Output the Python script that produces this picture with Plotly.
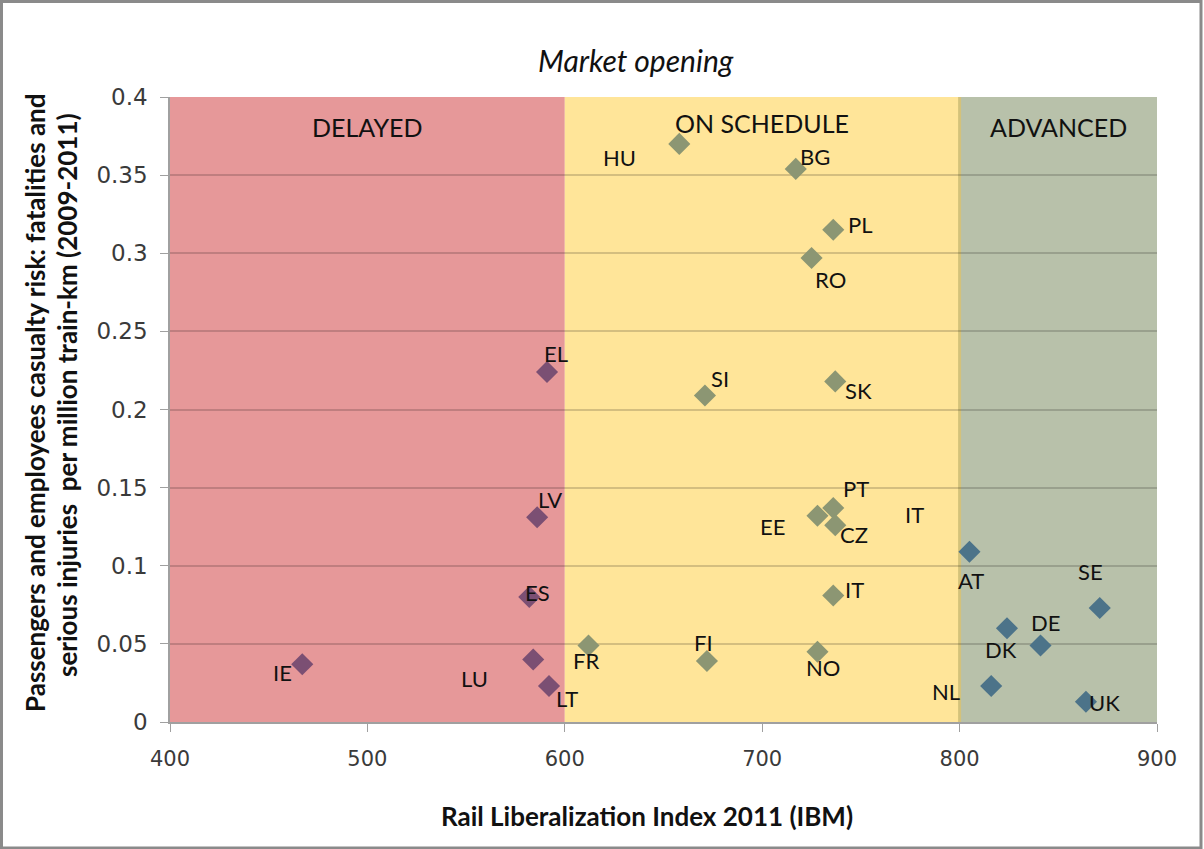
import plotly.graph_objects as go

# ---- data ----
countries = ["HU", "BG", "PL", "RO", "EL", "SI", "SK", "LV", "ES", "PT", "EE", "CZ",
             "AT", "IT", "NO", "DK", "DE", "SE", "NL", "UK", "IE", "LU", "LT", "FR", "FI"]
rli = [658, 717, 736, 725, 591, 671, 737, 586, 582, 736, 728, 737,
       805, 736, 728, 824, 841, 871, 816, 864, 467, 584, 592, 612, 672]
risk = [0.370, 0.354, 0.315, 0.297, 0.224, 0.209, 0.218, 0.131, 0.080, 0.137, 0.132, 0.126,
        0.109, 0.081, 0.045, 0.060, 0.049, 0.073, 0.023, 0.013, 0.037, 0.040, 0.023, 0.049, 0.039]
groups = ["on", "on", "on", "on", "del", "on", "on", "del", "del", "on", "on", "on",
          "adv", "on", "on", "adv", "adv", "adv", "adv", "adv", "del", "del", "del", "on", "on"]
# label offsets in pixels (dx right, dy up)
label_dx = [-60, 19, 27, 19, 9, 15, 23, 13, 8, 23, -45, 19, 2, 21, 6, -6, 5, -9, -45, 19, -20, -59, 18, -2, -3]
label_dy = [-14, 12, 5, -22, 19, 17, -9, 18, 5, 19, -11, -9, -29, 6, -16, -21, 23, 36, -5, -1, -8, -19, -12, -15, 19]

# stray label (no marker) in the source chart
stray_label = "IT"
stray_x, stray_y = 777, 0.1325

bands = [("DELAYED", 400, 600, "rgb(230,152,153)", 500, 0.381),
         ("ON SCHEDULE", 600, 800, "rgb(255,229,153)", 700, 0.3835),
         ("ADVANCED", 800, 900, "rgb(184,193,170)", 850, 0.381)]
group_colors = {"del": "rgb(123,79,115)", "on": "rgb(140,150,115)", "adv": "rgb(76,115,137)"}

x_ticks = [400, 500, 600, 700, 800, 900]
y_ticks = [0, 0.05, 0.1, 0.15, 0.2, 0.25, 0.3, 0.35, 0.4]
y_tick_text = ["0", "0.05", "0.1", "0.15", "0.2", "0.25", "0.3", "0.35", "0.4"]

W, H = 1204, 849
L, R, T, B = 170, 47, 97, 127
PW, PH = W - L - R, H - T - B


def px(xp):
    return (xp - L) / PW


def py(yp):
    return (H - B - yp) / PH


fig = go.Figure()

for g in ["del", "on", "adv"]:
    idx = [i for i, gg in enumerate(groups) if gg == g]
    fig.add_trace(go.Scatter(
        x=[rli[i] for i in idx], y=[risk[i] for i in idx],
        mode="markers",
        marker=dict(symbol="diamond", size=17, color=group_colors[g], line=dict(width=0)),
        showlegend=False, hoverinfo="skip"))

shapes = []
annotations = []
for name, x0, x1, col, lx, ly in bands:
    shapes.append(dict(type="rect", xref="x", yref="y", x0=x0, x1=x1, y0=0, y1=0.4,
                       fillcolor=col, line=dict(width=0), layer="below"))
    annotations.append(dict(x=lx, y=ly, xref="x", yref="y", text=name, showarrow=False,
                            font=dict(family="Lato", size=25, color="#111111")))
shapes.append(dict(type="line", xref="x", yref="y", x0=800, x1=800, y0=0, y1=0.4,
                   line=dict(color="rgb(212,194,122)", width=3), layer="below"))

for c, x, y, dx, dy in zip(countries, rli, risk, label_dx, label_dy):
    annotations.append(dict(x=x, y=y, xref="x", yref="y", text=c, showarrow=False,
                            xshift=dx, yshift=dy,
                            font=dict(family="Lato", size=22, color="#111111")))
annotations.append(dict(x=stray_x, y=stray_y, xref="x", yref="y", text=stray_label,
                        showarrow=False, font=dict(family="Lato", size=22, color="#111111")))

# title
annotations.append(dict(x=px(636), y=py(60), xref="paper", yref="paper", text="<i>Market opening</i>",
                        xanchor="center", yanchor="middle",
                        showarrow=False, font=dict(family="Lato", size=30, color="#111111")))
# axis titles
annotations.append(dict(x=px(647), y=py(816), xref="paper", yref="paper",
                        text="<b>Rail Liberalization Index 2011 (IBM)</b>",
                        xanchor="center", yanchor="middle",
                        showarrow=False, font=dict(family="Lato", size=26, color="#111111")))
annotations.append(dict(x=px(35), y=py(403), xref="paper", yref="paper", textangle=-90,
                        text="<b>Passengers and employees casualty risk: fatalities and</b>",
                        xanchor="center", yanchor="middle",
                        showarrow=False, font=dict(family="Lato", size=26, color="#111111")))
annotations.append(dict(x=px(67), y=py(395), xref="paper", yref="paper", textangle=-90,
                        text="<b>serious injuries  per million train-km (2009-2011)</b>",
                        xanchor="center", yanchor="middle",
                        showarrow=False, font=dict(family="Lato", size=26, color="#111111")))

# outer frame
shapes.append(dict(type="rect", xref="paper", yref="paper", x0=px(1.5), x1=px(1201), y0=py(1.5), y1=py(848),
                   line=dict(color="#8a8a8a", width=3), layer="above"))

fig.update_layout(
    width=W, height=H,
    margin=dict(l=L, r=R, t=T, b=B),
    paper_bgcolor="white", plot_bgcolor="white",
    shapes=shapes, annotations=annotations,
    xaxis=dict(range=[400, 900], tickvals=x_ticks, ticks="outside", ticklen=8, tickcolor="#a0a0a0",
               showline=True, linecolor="#a0a0a0", linewidth=1.5, showgrid=False, zeroline=False,
               tickfont=dict(family="DejaVu Sans", size=21, color="#3a3a3a"), ticklabelstandoff=9),
    yaxis=dict(range=[0, 0.4], tickvals=y_ticks, ticktext=y_tick_text, ticks="outside", ticklen=8,
               tickcolor="#a0a0a0", showline=True, linecolor="#a0a0a0", linewidth=1.5,
               showgrid=True, gridcolor="rgba(0,0,0,0.17)", gridwidth=1.5, zeroline=False,
               tickfont=dict(family="DejaVu Sans", size=23, color="#3a3a3a"), ticklabelstandoff=8),
)

fig.write_html("out.html", config={"displayModeBar": False},
               post_script="document.body.style.margin='0';")
